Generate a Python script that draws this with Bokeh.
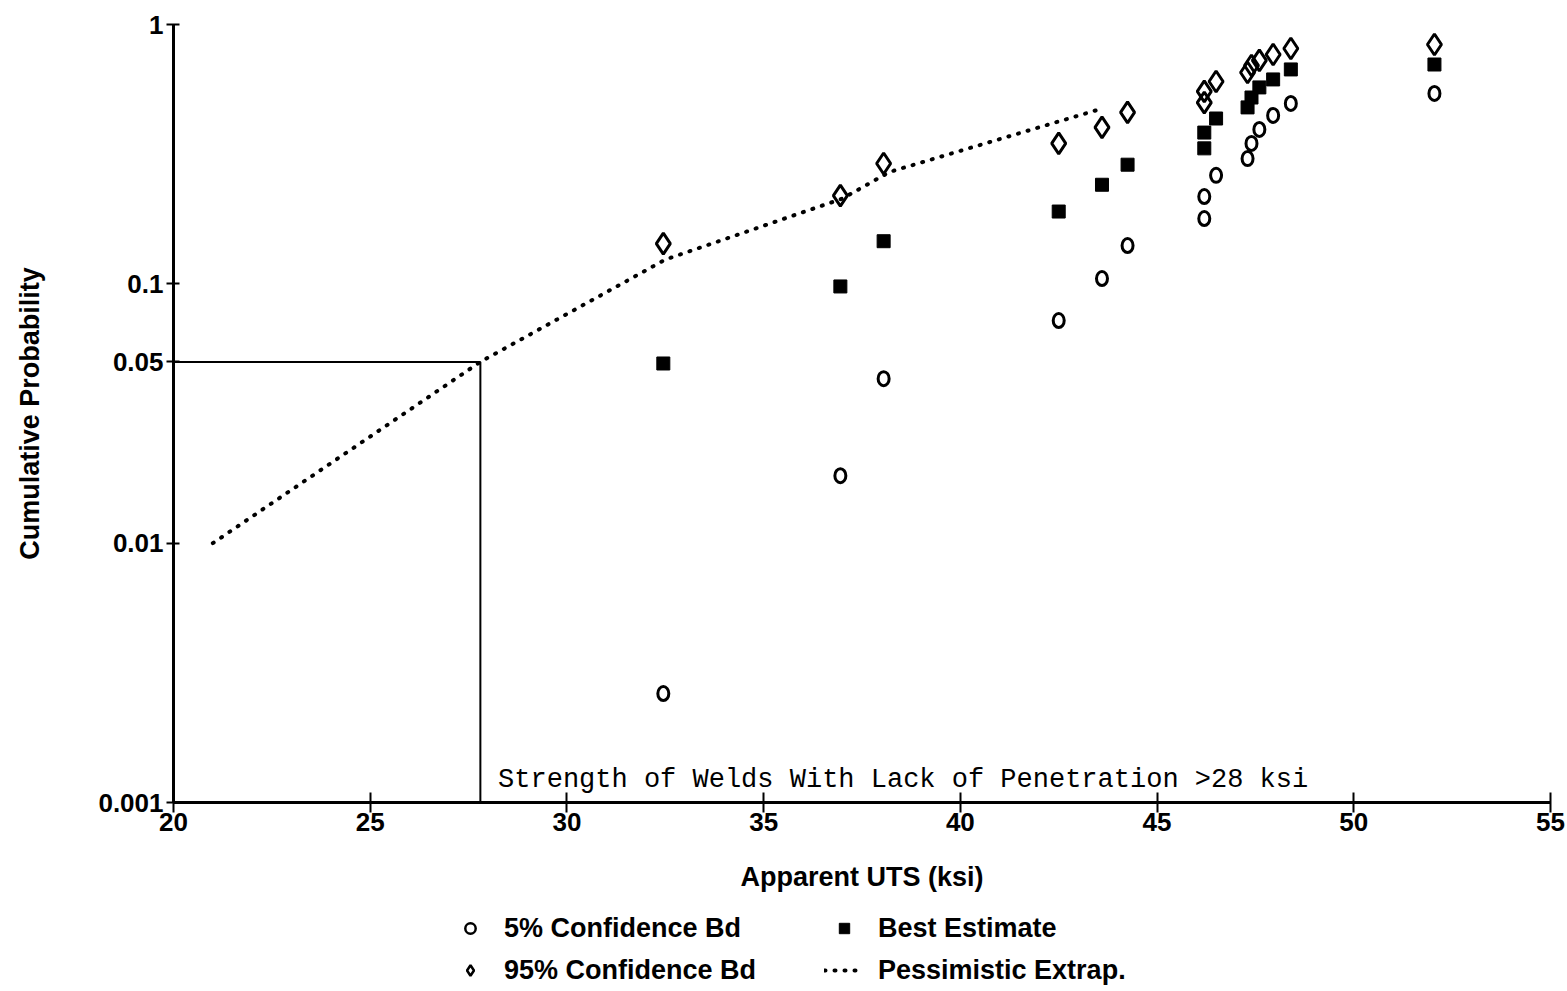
from bokeh.plotting import figure
from bokeh.layouts import column
from bokeh.models import (Range1d, FixedTicker, CustomJSTickFormatter, Legend,
                          LegendItem, Label, ColumnDataSource)
from bokeh.embed import file_html
from bokeh.resources import INLINE

# ---- data ----
uts = [32.45, 36.95, 38.05, 42.5, 43.6, 44.25, 46.2, 46.2, 46.5,
       47.3, 47.4, 47.6, 47.95, 48.4, 52.05]
p_low = [0.00263, 0.0182, 0.0431, 0.0722, 0.1048, 0.1405, 0.1786, 0.217,
         0.262, 0.304, 0.348, 0.394, 0.446, 0.496, 0.542]
p_best = [0.0493, 0.0977, 0.146, 0.190, 0.241, 0.288, 0.333, 0.383,
          0.434, 0.479, 0.523, 0.572, 0.614, 0.671, 0.701]
p_high = [0.143, 0.219, 0.291, 0.348, 0.401, 0.458, 0.500, 0.552,
          0.603, 0.653, 0.695, 0.727, 0.766, 0.808, 0.837]

extrap_x = [21.0, 27.8, 32.5, 37.0, 38.2, 43.6]
extrap_p = [0.01, 0.05, 0.124, 0.213, 0.27, 0.474]

ref_x = [20.0, 27.8, 27.8]
ref_p = [0.05, 0.05, 0.001]

x_ticks = [20, 25, 30, 35, 40, 45, 50, 55]
y_ticks = [0.001, 0.01, 0.05, 0.1, 1]

series_names = ["5% Confidence Bd", "Best Estimate", "95% Confidence Bd",
                "Pessimistic Extrap."]
annotation = "Strength of Welds With Lack of Penetration >28 ksi"

FONT = "Liberation Sans"

p = figure(frame_width=1377, frame_height=778,
           x_range=Range1d(20, 55), y_range=Range1d(0.001, 1),
           y_axis_type="log", output_backend="svg", toolbar_location=None,
           min_border_left=173, min_border_right=17, min_border_top=24,
           min_border_bottom=105, background_fill_color="white",
           border_fill_color="white")
p.grid.visible = False
p.outline_line_color = None

for ax in (p.xaxis[0], p.yaxis[0]):
    ax.axis_line_width = 3
    ax.axis_line_color = "black"
    ax.major_tick_line_width = 2
    ax.major_tick_line_color = "black"
    ax.minor_tick_line_color = None
    ax.major_label_text_font = FONT
    ax.major_label_text_font_style = "bold"
    ax.major_label_text_font_size = "26px"
    ax.major_label_text_color = "black"
    ax.axis_label_text_font = FONT
    ax.axis_label_text_font_style = "bold"
    ax.axis_label_text_color = "black"

p.xaxis.ticker = FixedTicker(ticks=x_ticks)
p.xaxis.major_tick_in = 10
p.xaxis.major_tick_out = 10
p.xaxis.major_label_standoff = 0
p.xaxis.axis_label = "Apparent UTS (ksi)"
p.xaxis.axis_label_text_font_size = "27px"
p.xaxis.axis_label_standoff = 28

p.yaxis.ticker = FixedTicker(ticks=y_ticks)
p.yaxis.formatter = CustomJSTickFormatter(code="return tick.toString();")
p.yaxis.major_tick_in = 6
p.yaxis.major_tick_out = 7
p.yaxis.major_label_standoff = 3
p.yaxis.axis_label = "Cumulative Probability"
p.yaxis.axis_label_text_font_size = "27px"
p.yaxis.axis_label_standoff = 50

# reference lines
p.line(ref_x, ref_p, line_color="black", line_width=2)

# extrapolation
EXT_STYLE = dict(line_color="black", line_width=4, line_dash="1 9",
                 line_cap="round")
p.line(extrap_x, extrap_p, **EXT_STYLE)

src = ColumnDataSource(dict(x=uts, lo=p_low, best=p_best, hi=p_high))
p.ellipse(x="x", y="lo", width=11, height=14, width_units="screen",
          height_units="screen", fill_color=None, line_color="black",
          line_width=3, source=src)
p.scatter(x="x", y="best", marker="square", size=13,
          fill_color="black", line_color="black", source=src)
p.scatter(x="x", y="hi", marker="diamond", size=21, fill_color=None,
          line_color="black", line_width=3, source=src)

p.add_layout(Label(x=28.25, y=0.00122, text=annotation,
                   text_font="Liberation Mono", text_font_size="27px",
                   text_color="black", text_baseline="alphabetic"))

# ---- legend strip below the chart (its frame is aligned with the chart's) ----
leg = figure(width=1567, height=84, x_range=Range1d(0, 1), y_range=Range1d(0, 1),
             output_backend="svg", toolbar_location=None,
             x_axis_location=None, y_axis_location=None,
             min_border=0, background_fill_color="white",
             border_fill_color="white")
leg.grid.visible = False
leg.outline_line_color = None
# same series, outside this strip's view: only their legend glyphs show
l_lo = leg.scatter(x="x", y="lo", marker="circle", size=11, fill_color=None,
                   line_color="black", line_width=2.5, source=src)
l_hi = leg.scatter(x="x", y="hi", marker="diamond", size=16, fill_color=None,
                   line_color="black", line_width=2.5, source=src)
l_best = leg.scatter(x="x", y="best", marker="square", size=11,
                     fill_color="black", line_color="black", source=src)
l_ext = leg.line(extrap_x, extrap_p, **EXT_STYLE)

legend = Legend(items=[LegendItem(label=series_names[0], renderers=[l_lo]),
                       LegendItem(label=series_names[2], renderers=[l_hi]),
                       LegendItem(label=series_names[1], renderers=[l_best]),
                       LegendItem(label=series_names[3], renderers=[l_ext])],
                ncols=2, location=(277, 0), border_line_color=None,
                background_fill_alpha=0, padding=0, margin=0, spacing=0,
                glyph_width=40, glyph_height=26, label_standoff=14,
                label_height=42, label_width=320, label_text_font=FONT,
                label_text_font_style="bold", label_text_font_size="27px",
                label_text_color="black")
leg.add_layout(legend, "center")

layout = column(p, leg, spacing=0)
open("out.html", "w").write(file_html(layout, INLINE))
